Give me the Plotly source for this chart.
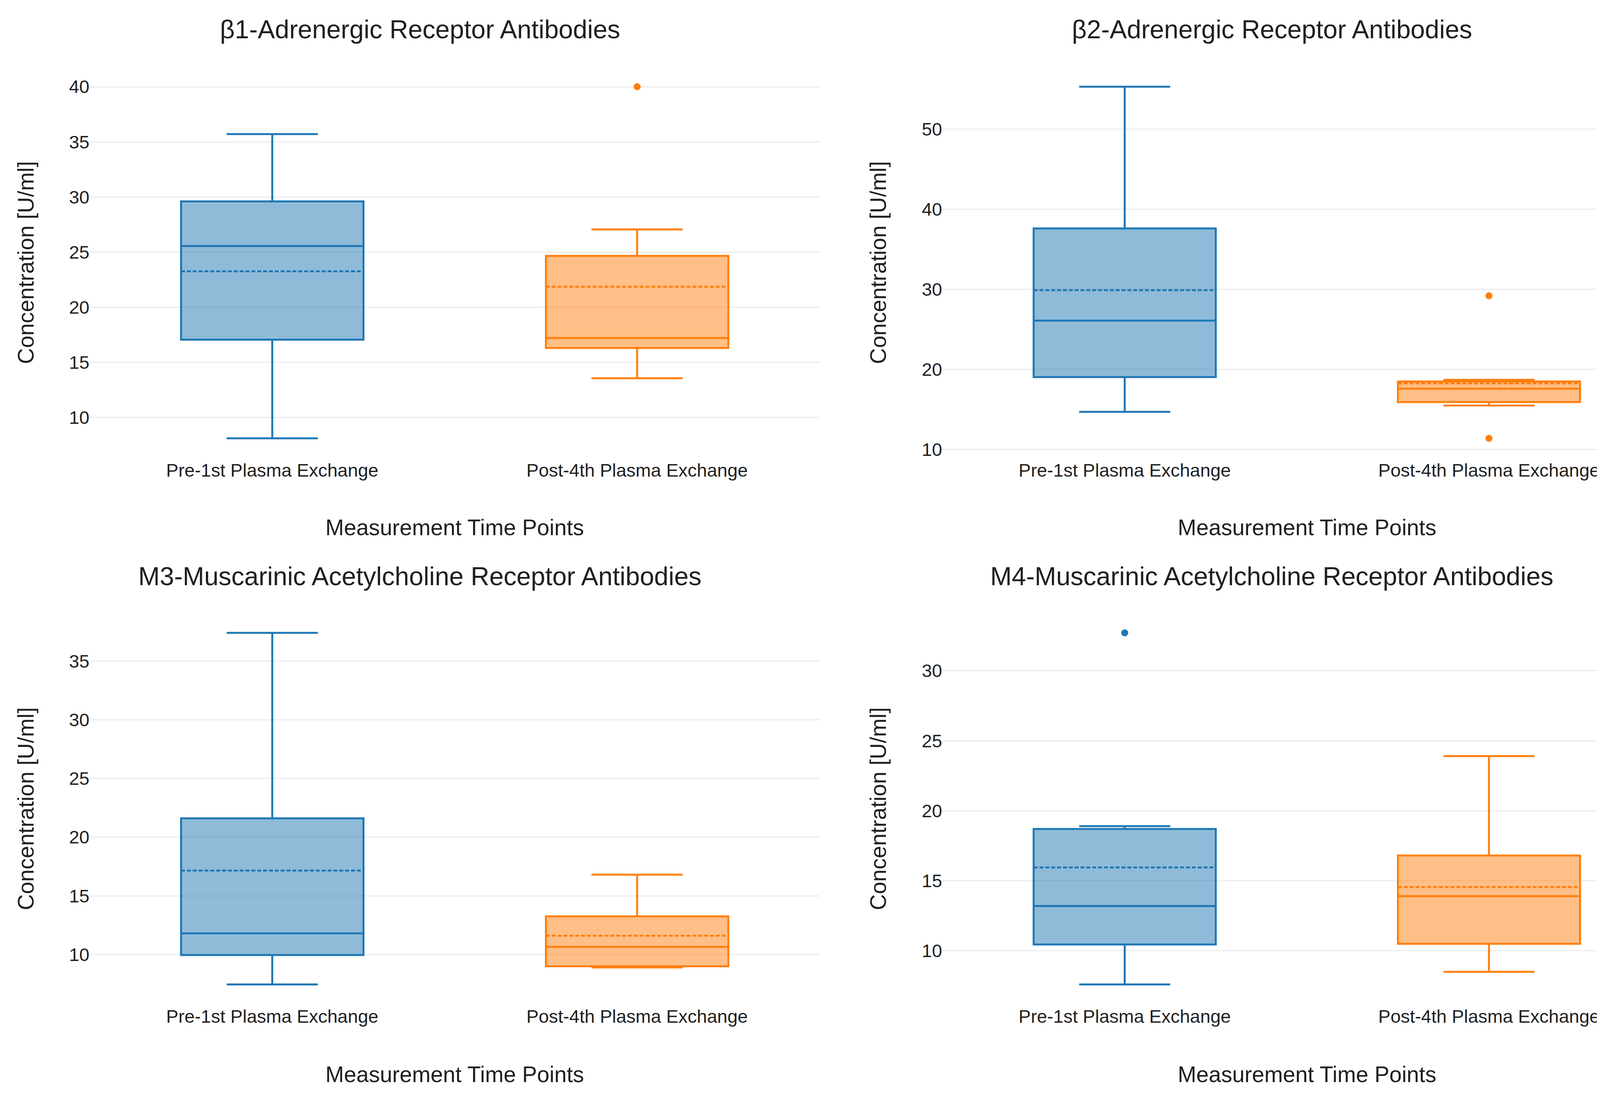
import plotly.graph_objects as go

# ---------------- data ----------------
categories = ["Pre-1st Plasma Exchange", "Post-4th Plasma Exchange"]
panel_titles = [
    "β1-Adrenergic Receptor Antibodies",
    "β2-Adrenergic Receptor Antibodies",
    "M3-Muscarinic Acetylcholine Receptor Antibodies",
    "M4-Muscarinic Acetylcholine Receptor Antibodies",
]
x_title = "Measurement Time Points"
y_title = "Concentration [U/ml]"

# per panel: [Pre, Post]
b1_lower = [8.1, 13.55]
b1_q1 = [17.05, 16.3]
b1_median = [25.55, 17.2]
b1_q3 = [29.6, 24.65]
b1_upper = [35.7, 27.05]
b1_mean = [23.25, 21.85]
b1_outliers = [[], [40.0]]

b2_lower = [14.7, 15.5]
b2_q1 = [19.05, 15.93]
b2_median = [26.1, 17.6]
b2_q3 = [37.6, 18.5]
b2_upper = [55.3, 18.7]
b2_mean = [29.9, 18.25]
b2_outliers = [[], [29.2, 11.4]]

m3_lower = [7.45, 8.9]
m3_q1 = [9.95, 9.0]
m3_median = [11.8, 10.65]
m3_q3 = [21.6, 13.25]
m3_upper = [37.4, 16.8]
m3_mean = [17.15, 11.6]
m3_outliers = [[], []]

m4_lower = [7.6, 8.5]
m4_q1 = [10.45, 10.5]
m4_median = [13.2, 13.9]
m4_q3 = [18.7, 16.8]
m4_upper = [18.9, 23.9]
m4_mean = [15.95, 14.55]
m4_outliers = [[32.7], []]

panel_dticks = [5, 10, 5, 5]

# ---------------- styling ----------------
W, H = 4288, 2803
colors = ["#1f77b4", "#ff7f0e"]
FONT = "Arial, Liberation Sans, sans-serif"
TXT = "#1f1f1f"
TICK_SIZE = 47
AXT_SIZE = 57
TITLE_SIZE = 66

panels = [
    (b1_lower, b1_q1, b1_median, b1_q3, b1_upper, b1_mean, b1_outliers),
    (b2_lower, b2_q1, b2_median, b2_q3, b2_upper, b2_mean, b2_outliers),
    (m3_lower, m3_q1, m3_median, m3_q3, m3_upper, m3_mean, m3_outliers),
    (m4_lower, m4_q1, m4_median, m4_q3, m4_upper, m4_mean, m4_outliers),
]

# pixel layout (figure pixels)
col_x = [(222, 2090), (2405, 4270)]
row_y = [(164, 1164), (1562, 2562)]
title_cx = [1067, 3248]
title_cy = [67, 1467]
xtitle_cy = [1342, 2742]
ytitle_cx = [58, 2240]


def fx(px):
    return px / W


def fy(py):
    return 1 - py / H


fig = go.Figure()
annotations = []
layout_axes = {}

for i, (lo, q1, med, q3, up, mn, outs) in enumerate(panels):
    r, c = divmod(i, 2)
    idx = "" if i == 0 else str(i + 1)
    xa, ya = "x" + idx, "y" + idx
    for j, cat in enumerate(categories):
        fig.add_trace(go.Box(
            x=[cat], q1=[q1[j]], median=[med[j]], q3=[q3[j]],
            lowerfence=[lo[j]], upperfence=[up[j]], mean=[mn[j]],
            boxmean=True, boxpoints=False, width=0.5, whiskerwidth=0.5,
            line=dict(color=colors[j], width=5),
            marker=dict(color=colors[j]),
            name=cat, showlegend=False, xaxis=xa, yaxis=ya,
        ))
        if outs[j]:
            fig.add_trace(go.Scatter(
                x=[cat] * len(outs[j]), y=outs[j], mode="markers",
                marker=dict(color=colors[j], size=18),
                showlegend=False, xaxis=xa, yaxis=ya, name=cat,
            ))
    vals = lo + up + [v for o in outs for v in o]
    vmin, vmax = min(vals), max(vals)
    pad = (vmax - vmin) * 0.05 / 0.9
    x0, x1 = col_x[c]
    y0, y1 = row_y[r]
    layout_axes["xaxis" + idx] = dict(
        domain=[fx(x0), fx(x1)], anchor=ya, type="category",
        categoryorder="array", categoryarray=categories,
        range=[-0.5, 1.5], showgrid=False, zeroline=False, showline=False,
        ticks="", tickfont=dict(size=TICK_SIZE, color=TXT, family=FONT),
    )
    layout_axes["yaxis" + idx] = dict(
        domain=[fy(y1), fy(y0)], anchor=xa, range=[vmin - pad, vmax + pad],
        tick0=0, dtick=panel_dticks[i], showgrid=True, gridcolor="#ececec",
        gridwidth=3, zeroline=False, showline=False, ticks="",
        tickfont=dict(size=TICK_SIZE, color=TXT, family=FONT),
    )
    annotations.append(dict(
        text=panel_titles[i], x=fx(title_cx[c]), y=fy(title_cy[r]),
        xref="paper", yref="paper", xanchor="center", yanchor="middle",
        showarrow=False, font=dict(size=TITLE_SIZE, color=TXT, family=FONT),
    ))
    annotations.append(dict(
        text=x_title, x=fx((x0 + x1) / 2), y=fy(xtitle_cy[r]),
        xref="paper", yref="paper", xanchor="center", yanchor="middle",
        showarrow=False, font=dict(size=AXT_SIZE, color=TXT, family=FONT),
    ))
    annotations.append(dict(
        text=y_title, x=fx(ytitle_cx[c]), y=fy((y0 + y1) / 2), textangle=-90,
        xref="paper", yref="paper", xanchor="center", yanchor="middle",
        showarrow=False, font=dict(size=AXT_SIZE, color=TXT, family=FONT),
    ))

fig.update_layout(
    width=W, height=H, margin=dict(l=0, r=0, t=0, b=0, autoexpand=False),
    paper_bgcolor="white", plot_bgcolor="white", boxmode="overlay",
    showlegend=False, annotations=annotations,
    font=dict(family=FONT, color=TXT), **layout_axes,
)

fig.write_html("out.html")
